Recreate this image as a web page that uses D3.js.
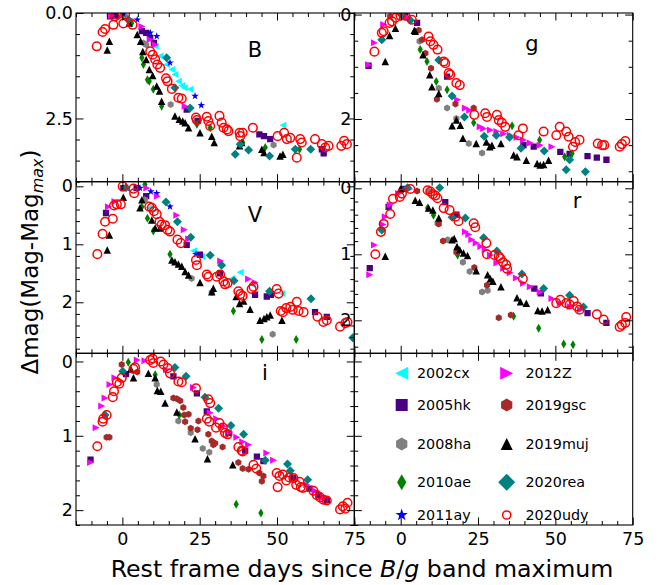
<!DOCTYPE html>
<html><head><meta charset="utf-8">
<script src="https://cdn.jsdelivr.net/npm/d3@7"></script>
<style>body{margin:0;background:#fff} svg text{font-family:"DejaVu Sans",sans-serif}</style>
</head><body><svg id="c" width="659" height="585"></svg>
<script>
// ---------------- DATA ----------------
const bands = ["B","g","V","r","i"];
const sne = ["2002cx","2005hk","2008ha","2010ae","2011ay","2012Z","2019gsc","2019muj","2020rea","2020udy"];
const xTicks = [0,25,50,75];
const yTicksB = [0,2.5], yTicksG = [0,2], yTicksV = [0,1,2], yTicksR = [0,1,2], yTicksI = [0,1,2];

// B band  [day, dmag]
const B_2002cx = [[7.9,0.51],[10.6,0.79],[12.2,1.02],[14.3,1.22],[16.0,1.34],[17.0,1.46],[18.1,1.62],[19.2,1.72],[20.0,1.77],[21.9,1.81],[51.9,2.66]];
const B_2005hk = [[-4.0,0.08],[-2.1,0.06],[6.3,0.43],[7.7,0.47],[9.0,0.59],[10.2,0.71],[20.8,2.29],[24.3,2.56],[44.3,2.88],[45.8,2.92],[47.8,2.99],[64.5,3.23],[65.1,3.33]];
const B_2008ha = [[0.9,0.08],[6.8,0.71],[7.7,0.75],[15.6,2.17],[48.9,3.13]];
const B_2010ae = [[3.0,0.24],[6.3,1.06],[6.8,1.22],[8.1,1.58],[8.7,1.62],[10.0,1.81],[12.7,2.21],[24.1,2.64],[28.4,2.72],[38.9,3.07],[46.2,3.19],[57.3,3.23]];
const B_2011ay = [[0.3,0.02],[4.8,0.16],[9.0,0.47],[11.1,0.55],[15.4,1.18],[23.5,1.97],[25.5,2.19]];
const B_2012Z = [[-3.5,0.06],[3.0,0.16],[6.3,0.32],[9.0,0.63],[10.6,0.75],[20.3,2.21]];
const B_2019muj = [[-4.2,0.67],[-4.9,0.88],[2.2,0.24],[4.8,0.51],[5.9,0.67],[6.6,0.91],[7.7,1.10],[8.7,1.34],[9.8,1.48],[11.1,1.73],[12.0,1.85],[12.7,2.09],[17.0,2.44],[18.4,2.52],[19.5,2.56],[20.3,2.60],[21.4,2.72],[25.1,2.84],[28.9,2.92],[29.7,3.07],[37.9,3.15],[38.6,3.07],[45.1,3.23],[45.8,3.31],[51.0,3.39],[51.9,3.35]];
const B_2020rea = [[1.9,0.16],[14.3,1.06],[17.0,1.77],[21.9,2.25],[36.5,3.35],[38.1,3.11],[40.8,3.25],[47.6,3.39],[55.9,3.23],[60.9,3.23]];
const B_2020udy = [[-8.3,0.79],[-6.4,0.45],[-5.6,0.38],[-2.9,0.28],[-2.4,0.08],[-1.6,0.04],[0.9,0.04],[0.3,0.25],[3.3,0.28],[9.0,0.91],[9.8,0.99],[10.6,1.10],[11.3,1.22],[12.2,1.30],[14.1,1.55],[14.6,1.62],[16.0,1.80],[18.1,2.01],[19.2,2.03],[23.8,2.48],[24.1,2.54],[27.3,2.46],[27.8,2.56],[28.4,2.68],[31.4,2.44],[32.1,2.60],[32.7,2.72],[33.8,2.76],[34.3,2.80],[37.9,2.84],[38.1,2.92],[38.9,2.84],[42.2,2.72],[50.2,2.92],[52.3,2.84],[53.2,2.99],[54.3,2.96],[56.4,3.43],[57.5,2.99],[58.0,3.07],[62.3,2.99],[64.5,3.11],[65.6,3.19],[66.7,3.15],[70.8,3.15],[71.7,3.03],[72.6,3.11]];

// g band
const g_2005hk = [[-10.4,0.98],[1.5,0.02],[5.3,0.16],[15.0,1.19],[39.7,2.50],[43.0,2.53],[51.6,2.63],[54.6,2.67],[60.4,2.71],[63.4,2.74],[66.5,2.78]];
const g_2008ha = [[6.1,0.51],[12.3,1.41],[15.0,1.79],[18.0,1.99],[22.0,2.47],[26.3,2.65]];
const g_2010ae = [[6.3,0.67],[8.5,0.90],[11.5,1.28],[15.0,1.44],[23.6,2.07],[36.0,2.13],[44.9,2.40],[53.0,2.72],[55.4,2.66]];
const g_2012Z = [[-10.4,0.96],[-8.5,0.54],[-5.5,0.19],[2.6,0.06],[18.4,1.63],[20.9,1.79],[22.3,1.83],[25.7,2.15],[26.8,2.18],[29.0,2.21],[31.1,2.24],[33.3,2.28],[35.4,2.31],[37.6,2.35],[39.7,2.40],[41.9,2.46],[45.1,2.50],[48.9,2.53]];
const g_2019gsc = [[-3.4,0.03],[0.5,0.0],[5.8,0.30],[6.9,0.48],[8.0,0.74],[9.8,1.03],[11.7,1.62],[17.7,1.71],[23.6,1.79]];
const g_2019muj = [[-5.0,0.90],[-3.6,0.40],[-1.7,0.26],[4.4,0.30],[4.7,0.32],[7.2,0.77],[9.4,1.15],[10.1,1.38],[12.3,1.51],[16.6,2.13],[18.0,2.02],[19.3,2.12],[20.1,2.37],[24.4,2.47],[27.7,2.44],[28.8,2.53],[29.5,2.50],[32.4,2.47],[36.5,2.69],[37.6,2.72],[40.6,2.79],[44.1,2.85],[45.1,2.88],[46.2,2.87],[47.8,2.79]];
const g_2020rea = [[-6.1,0.48],[0.2,0.0],[3.1,0.11],[12.3,0.87],[16.6,1.56],[20.6,1.96],[27.0,2.33],[30.9,2.31],[35.2,2.35],[38.9,2.56],[46.4,2.61],[53.5,2.97],[54.6,2.78],[59.7,3.01]];
const g_2020udy = [[-8.5,0.71],[-6.1,0.35],[-5.5,0.32],[-3.6,0.16],[-2.8,0.13],[-1.7,0.06],[-0.1,0.02],[1.5,0.02],[3.6,0.10],[9.0,0.42],[9.6,0.51],[10.6,0.58],[11.9,0.67],[13.9,0.90],[14.4,0.93],[15.5,1.12],[16.0,1.15],[18.0,1.31],[19.1,1.35],[23.8,1.92],[27.3,1.89],[27.9,1.96],[31.1,1.92],[31.7,2.02],[32.7,2.07],[33.8,2.15],[38.1,2.31],[39.5,2.18],[46.2,2.24],[50.3,2.31],[51.4,2.15],[53.5,2.24],[54.3,2.34],[55.7,2.53],[56.4,2.44],[57.8,2.40],[63.7,2.47],[65.1,2.50],[65.8,2.50],[70.8,2.53],[71.5,2.48],[72.6,2.42]];

// V band
const V_2002cx = [[8.7,0.37],[23.0,1.11],[25.7,1.21],[35.4,1.59],[38.1,1.48],[42.2,1.70],[51.6,1.85]];
const V_2005hk = [[-5.3,0.46],[0.3,0.03],[4.6,0.03],[7.7,0.17],[20.8,1.01],[25.1,1.18],[31.6,1.50],[42.9,1.87],[46.7,1.90],[48.0,1.87],[62.3,2.17],[66.1,2.25]];
const V_2008ha = [[7.3,0.23],[22.4,1.59],[28.9,1.83],[48.6,2.55]];
const V_2010ae = [[7.3,-0.03],[6.3,0.35],[8.1,0.55],[10.0,0.77],[15.4,1.17],[35.9,2.15],[45.1,2.64],[56.2,2.64]];
const V_2011ay = [[1.4,0.03],[5.7,0.03],[9.2,0.09],[11.1,0.12],[15.4,0.35],[23.8,1.17]];
const V_2012Z = [[-4.5,0.35],[-2.4,0.26],[7.9,0.03],[11.3,0.17],[17.6,0.50],[20.0,0.75],[21.4,0.91],[31.8,1.29],[40.8,1.60],[42.9,1.66]];
const V_2019muj = [[-4.2,0.84],[-4.9,1.10],[0.3,0.19],[5.7,0.37],[6.3,0.23],[9.5,0.58],[10.6,0.72],[12.2,0.72],[16.0,1.27],[17.0,1.30],[18.1,1.34],[19.2,1.38],[20.3,1.47],[21.4,1.53],[25.1,1.66],[28.9,1.82],[29.4,1.76],[36.8,1.90],[37.9,2.02],[39.2,1.98],[41.3,2.12],[44.5,2.31],[45.8,2.28],[46.7,2.25],[47.8,2.22],[51.6,2.31]];
const V_2020rea = [[1.2,0.02],[14.1,0.27],[17.8,0.61],[22.1,0.88],[28.4,1.19],[32.1,1.36],[36.1,1.63],[47.6,1.81],[61.0,1.94],[74.5,2.61]];
const V_2020udy = [[-8.1,1.17],[-6.4,0.82],[-5.6,0.61],[-3.1,0.56],[-2.7,0.33],[-1.8,0.31],[-0.5,0.31],[0.1,0.0],[3.6,0.04],[3.8,0.12],[8.7,0.35],[9.5,0.37],[10.2,0.43],[11.1,0.48],[12.0,0.61],[12.7,0.66],[13.8,0.67],[14.6,0.75],[15.4,0.78],[17.8,0.92],[18.9,0.98],[23.8,1.27],[24.1,1.36],[27.3,1.52],[27.8,1.56],[30.5,1.56],[31.6,1.52],[32.7,1.64],[33.2,1.69],[34.0,1.67],[37.5,1.81],[38.1,1.86],[38.9,1.89],[41.8,1.77],[42.4,1.73],[49.9,1.77],[50.5,1.85],[51.2,2.15],[51.9,2.17],[53.0,2.10],[54.3,2.08],[55.1,2.13],[56.4,1.99],[57.0,2.15],[58.6,2.17],[63.1,2.25],[65.0,2.34],[66.1,2.31],[70.4,2.42],[72.1,2.36],[72.8,2.34]];

// r band
const r_2005hk = [[-10.0,1.21],[-3.9,0.28],[1.0,0.01],[14.4,0.21],[18.0,0.40],[43.2,1.52],[45.3,1.59],[60.4,1.89],[66.5,2.04]];
const r_2008ha = [[9.0,0.04],[11.9,0.53],[15.2,0.78],[20.1,1.12],[22.3,1.26],[26.3,1.57],[28.1,1.55]];
const r_2010ae = [[8.7,0.30],[10.6,0.41],[18.4,1.01],[36.5,1.94],[44.6,2.12],[52.7,2.36],[55.7,2.37]];
const r_2012Z = [[-10.0,1.31],[-8.5,0.86],[-5.7,0.55],[-5.0,0.43],[-3.4,0.25],[-0.7,0.08],[2.9,0.01],[20.9,0.66],[22.0,0.70],[23.0,0.78],[24.4,0.83],[25.9,0.88],[27.3,0.93],[29.0,1.01],[31.1,1.13],[33.3,1.21],[35.4,1.28],[37.4,1.36],[39.7,1.44],[41.9,1.49],[45.1,1.57],[48.9,1.67],[51.6,1.74],[54.8,1.79],[58.1,1.84]];
const r_2019gsc = [[5.3,0.04],[12.3,0.54],[13.7,0.80],[18.0,0.97],[23.8,1.20],[27.9,1.47],[31.7,1.96],[35.6,1.92]];
const r_2019muj = [[-5.0,1.03],[-0.1,0.01],[4.7,0.18],[6.1,0.21],[9.0,0.30],[10.4,0.33],[12.3,0.45],[16.6,0.78],[17.3,0.76],[18.2,0.88],[19.1,0.93],[20.3,0.98],[21.6,1.02],[24.4,1.25],[28.1,1.31],[29.0,1.37],[29.8,1.41],[32.4,1.49],[37.6,1.66],[38.7,1.72],[40.6,1.74],[44.3,1.85],[45.7,1.86],[47.5,1.84]];
const r_2020rea = [[-6.1,0.63],[2.2,-0.01],[12.6,-0.01],[16.6,0.44],[20.9,0.45],[26.8,0.75],[31.1,0.95],[39.2,1.30],[46.2,1.52],[54.6,1.62],[59.1,1.80]];
const r_2020udy = [[-8.2,1.00],[-6.4,0.66],[-5.5,0.54],[-3.4,0.39],[-2.5,0.16],[-0.3,0.13],[0.4,0.08],[3.1,0.01],[8.7,0.03],[9.6,0.05],[10.4,0.09],[11.2,0.11],[11.9,0.15],[13.9,0.30],[15.8,0.33],[17.7,0.43],[18.7,0.50],[23.6,0.53],[24.1,0.59],[27.7,0.83],[27.9,1.00],[30.3,1.01],[31.7,1.03],[32.2,1.06],[33.1,1.12],[34.1,1.16],[34.4,1.22],[39.5,1.37],[50.3,1.74],[51.6,1.69],[53.5,1.74],[54.6,1.76],[55.9,1.71],[57.0,1.79],[57.8,1.84],[63.4,1.91],[65.6,1.99],[70.8,2.10],[71.5,2.07],[72.6,2.04],[72.9,1.95]];

// i band
const i_2005hk = [[-10.3,1.32],[1.2,0.17],[16.5,0.20],[24.1,0.43],[27.3,0.67],[34.3,0.96],[39.7,1.20],[43.5,1.28],[45.6,1.34],[55.3,1.57],[60.5,1.71],[63.4,1.80],[66.1,1.87]];
const i_2008ha = [[11.1,0.31],[18.1,0.80],[22.1,0.96],[26.0,1.17],[28.1,1.22]];
const i_2010ae = [[1.9,0.01],[10.6,0.18],[18.4,0.72],[36.8,1.92],[44.8,2.04]];
const i_2012Z = [[-10.3,1.36],[-8.5,0.89],[-6.7,0.60],[-5.6,0.49],[-4.0,0.31],[-2.4,0.22],[4.8,-0.02],[7.3,-0.01],[14.3,0.11],[23.0,0.35],[28.4,0.69],[30.5,0.77],[32.7,0.87],[34.8,0.95],[37.0,1.02],[38.9,1.08],[40.8,1.12],[46.7,1.23],[48.9,1.33],[59.6,1.66],[62.3,1.74],[65.0,1.83]];
const i_2019gsc = [[-5.1,1.02],[-4.2,1.02],[-0.2,0.04],[4.8,0.14],[16.5,0.49],[17.6,0.50],[18.7,0.53],[19.7,0.62],[20.0,0.72],[21.4,0.71],[20.3,0.81],[22.1,0.90],[24.6,0.80],[24.3,0.92],[27.8,0.98],[28.9,1.07],[29.4,1.12],[30.0,1.10],[32.4,1.15],[37.5,1.36],[38.9,1.44],[40.8,1.45],[44.3,1.50],[45.1,1.61],[45.6,1.54]];
const i_2019muj = [[2.7,0.10],[3.6,0.22],[8.4,0.16],[10.6,0.22],[11.3,0.39],[12.4,0.40],[13.8,0.56],[17.6,0.68],[23.5,1.04],[27.5,1.31],[35.7,1.39]];
const i_2020rea = [[-5.6,0.72],[0.1,0.13],[17.0,0.08],[20.6,0.20],[26.7,0.48],[31.1,0.63],[35.1,0.86],[39.2,0.98],[46.2,1.33],[53.4,1.38],[54.3,1.47],[59.9,1.59]];
const i_2020udy = [[-8.1,1.14],[-6.4,0.81],[-6.2,0.77],[-5.1,0.72],[-3.1,0.48],[-2.7,0.40],[-1.8,0.28],[-1.0,0.30],[-0.2,0.22],[3.6,0.10],[4.1,0.08],[9.0,-0.02],[9.8,-0.04],[10.0,0.02],[12.4,0.0],[13.3,0.04],[14.6,0.09],[15.4,0.16],[18.1,0.27],[19.2,0.28],[23.8,0.36],[27.8,0.51],[28.4,0.56],[27.3,0.77],[28.1,0.81],[30.3,0.89],[31.4,0.83],[32.5,0.89],[33.2,0.96],[34.0,0.98],[37.5,1.15],[38.6,1.20],[38.9,1.21],[42.4,1.39],[43.3,1.44],[49.9,1.50],[50.2,1.69],[50.8,1.54],[51.9,1.52],[53.0,1.60],[54.0,1.56],[55.3,1.57],[56.2,1.66],[57.3,1.62],[57.7,1.69],[58.4,1.70],[61.8,1.74],[62.9,1.80],[64.0,1.83],[65.0,1.86],[66.1,1.87],[70.4,1.99],[71.3,1.95],[72.1,1.98],[72.8,1.90]];

// table built from the arrays
const table = {
  B: {"2002cx":B_2002cx,"2005hk":B_2005hk,"2008ha":B_2008ha,"2010ae":B_2010ae,"2011ay":B_2011ay,"2012Z":B_2012Z,"2019muj":B_2019muj,"2020rea":B_2020rea,"2020udy":B_2020udy},
  g: {"2005hk":g_2005hk,"2008ha":g_2008ha,"2010ae":g_2010ae,"2012Z":g_2012Z,"2019gsc":g_2019gsc,"2019muj":g_2019muj,"2020rea":g_2020rea,"2020udy":g_2020udy},
  V: {"2002cx":V_2002cx,"2005hk":V_2005hk,"2008ha":V_2008ha,"2010ae":V_2010ae,"2011ay":V_2011ay,"2012Z":V_2012Z,"2019muj":V_2019muj,"2020rea":V_2020rea,"2020udy":V_2020udy},
  r: {"2005hk":r_2005hk,"2008ha":r_2008ha,"2010ae":r_2010ae,"2012Z":r_2012Z,"2019gsc":r_2019gsc,"2019muj":r_2019muj,"2020rea":r_2020rea,"2020udy":r_2020udy},
  i: {"2005hk":i_2005hk,"2008ha":i_2008ha,"2010ae":i_2010ae,"2012Z":i_2012Z,"2019gsc":i_2019gsc,"2019muj":i_2019muj,"2020rea":i_2020rea,"2020udy":i_2020udy}
};

// ---------------- STYLE ----------------
const style = {
  "2002cx":{m:"<",c:"#00ffff",s:7,ls:13},
  "2005hk":{m:"s",c:"#4b0082",s:6.3,ls:12},
  "2008ha":{m:"h",c:"#808080",s:7,ls:13},
  "2010ae":{m:"d",c:"#008000",s:9,ls:16},
  "2011ay":{m:"*",c:"#0000ff",s:8,ls:13},
  "2012Z":{m:">",c:"#ff00ff",s:7,ls:13},
  "2019gsc":{m:"h",c:"#a52a2a",s:7,ls:13},
  "2019muj":{m:"^",c:"#000000",s:7.5,ls:12},
  "2020rea":{m:"D",c:"#008080",s:9,ls:17},
  "2020udy":{m:"o",c:"#ff0000",s:8.6,ls:8.2}
};

function markerPath(t, s){
  const h = s/2;
  switch(t){
    case "^": return `M0,${-h}L${h},${h}L${-h},${h}Z`;
    case "<": return `M${-h},0L${h},${-h}L${h},${h}Z`;
    case ">": return `M${h},0L${-h},${-h}L${-h},${h}Z`;
    case "s": return `M${-h},${-h}h${s}v${s}h${-s}Z`;
    case "h": { const p=d3.range(6).map(i=>{const a=Math.PI/3*i-Math.PI/2;return [h*Math.cos(a),h*Math.sin(a)];}); return "M"+p.map(q=>q.join(",")).join("L")+"Z"; }
    case "d": return `M0,${-h}L${h*0.58},0L0,${h}L${-h*0.58},0Z`;
    case "D": return `M0,${-h}L${h},0L0,${h}L${-h},0Z`;
    case "*": { const p=d3.range(10).map(i=>{const a=Math.PI/5*i-Math.PI/2;const rr=i%2?h*0.4:h;return [rr*Math.cos(a),rr*Math.sin(a)];}); return "M"+p.map(q=>q.join(",")).join("L")+"Z"; }
    case "o": return `M${h},0A${h},${h} 0 1,1 ${-h},0A${h},${h} 0 1,1 ${h},0Z`;
  }
}
function styleMarker(sel, st){
  if(st.m==="o") sel.attr("fill","none").attr("stroke",st.c).attr("stroke-width",1.5);
  else sel.attr("fill",st.c).attr("stroke","none");
}

// ---------------- LAYOUT ----------------
const svg = d3.select("#c");
const defs = svg.append("defs");
const cols = [[76,354.3],[354.3,632.7]];
const rows = [[13,181.7],[181.7,353.3],[353.3,525]];
const TICK_FS = 17.5;

const panels = [
  {band:"B", col:0,row:0, dom:[0,4.0],   major:yTicksB, minor:0.5, fmt:d3.format(".1f"), lab:[255,57]},
  {band:"g", col:1,row:0, dom:[-0.03,3.2],major:yTicksG, minor:0.5, fmt:d3.format("d"), lab:[532,51]},
  {band:"V", col:0,row:1, dom:[-0.08,2.88],major:yTicksV, minor:0.2, fmt:d3.format("d"), lab:[255,222]},
  {band:"r", col:1,row:1, dom:[-0.1,2.5], major:yTicksR, minor:0.2, fmt:d3.format("d"), lab:[577,208]},
  {band:"i", col:0,row:2, dom:[-0.11,2.2],major:yTicksI, minor:0.2, fmt:d3.format("d"), lab:[265,380]},
  {band:null,col:1,row:2, dom:[-0.11,2.2],major:yTicksI, minor:0.2, fmt:()=>"", legend:true}
];

function styleAxis(g){
  g.select(".domain").remove();
  g.selectAll("line").attr("stroke","#000").attr("stroke-width",1);
  g.selectAll("text").attr("font-size",TICK_FS).attr("font-family","DejaVu Sans").attr("fill","#000");
  g.attr("font-family",null).attr("font-size",null);
}

panels.forEach((p,k)=>{
  const [x0,x1]=cols[p.col], [y0,y1]=rows[p.row];
  const x = d3.scaleLinear().domain([-15,75]).range([x0,x1]);
  const y = d3.scaleLinear().domain(p.dom).range([y0,y1]);
  const xMinor = d3.range(-15,75.01,5).filter(v=>!xTicks.includes(v));
  const yMinor = d3.range(Math.ceil(p.dom[0]/p.minor)*p.minor, p.dom[1]+1e-6, p.minor).map(v=>+v.toFixed(3)).filter(v=>!p.major.some(m=>Math.abs(m-v)<1e-6));

  defs.append("clipPath").attr("id","clip"+k).append("rect")
    .attr("x",x0).attr("y",y0).attr("width",x1-x0).attr("height",y1-y0);

  if(p.band){
    const gm = svg.append("g").attr("clip-path",`url(#clip${k})`);
    sne.forEach(name=>{
      const pts = table[p.band][name];
      if(!pts) return;
      const st = style[name];
      gm.append("g").selectAll("path").data(pts).join("path")
        .attr("d",markerPath(st.m,st.s))
        .attr("transform",d=>`translate(${x(d[0])},${y(d[1])})`)
        .call(sel=>styleMarker(sel,st));
    });
    svg.append("text").attr("x",p.lab[0]).attr("y",p.lab[1]).attr("text-anchor","middle")
      .attr("font-size",21).text(p.band);
  }

  // axes: inward ticks
  svg.append("g").attr("transform",`translate(${x0},0)`)
    .call(d3.axisLeft(y).tickValues(p.major).tickSizeInner(-7.5).tickSizeOuter(0).tickPadding(3).tickFormat(p.fmt)).call(styleAxis);
  svg.append("g").attr("transform",`translate(${x0},0)`)
    .call(d3.axisLeft(y).tickValues(yMinor).tickSizeInner(-4).tickSizeOuter(0).tickFormat("")).call(styleAxis);
  if(!p.legend){
    svg.append("g").attr("transform",`translate(${x1},0)`)
      .call(d3.axisRight(y).tickValues(p.major).tickSizeInner(-7.5).tickSizeOuter(0).tickFormat("")).call(styleAxis);
    svg.append("g").attr("transform",`translate(${x1},0)`)
      .call(d3.axisRight(y).tickValues(yMinor).tickSizeInner(-4).tickSizeOuter(0).tickFormat("")).call(styleAxis);
  }
  svg.append("g").attr("transform",`translate(0,${y0})`)
    .call(d3.axisTop(x).tickValues(xTicks).tickSizeInner(-7.5).tickSizeOuter(0).tickFormat("")).call(styleAxis);
  svg.append("g").attr("transform",`translate(0,${y0})`)
    .call(d3.axisTop(x).tickValues(xMinor).tickSizeInner(-4).tickSizeOuter(0).tickFormat("")).call(styleAxis);
  const bottomLabels = p.row===2;
  svg.append("g").attr("transform",`translate(0,${y1})`)
    .call(d3.axisBottom(x).tickValues(xTicks).tickSizeInner(-7.5).tickSizeOuter(0).tickPadding(7.5).tickFormat(bottomLabels?d3.format("d"):"")).call(styleAxis);
  svg.append("g").attr("transform",`translate(0,${y1})`)
    .call(d3.axisBottom(x).tickValues(xMinor).tickSizeInner(-4).tickSizeOuter(0).tickFormat("")).call(styleAxis);

  svg.append("rect").attr("x",x0).attr("y",y0).attr("width",x1-x0).attr("height",y1-y0)
    .attr("fill","none").attr("stroke","#000").attr("stroke-width",1.1);

  if(p.legend){
    const rowY = [373.3,405,444,482.3,515];
    const colX = [[401.7,417],[506.7,525.5]];
    sne.forEach((name,j)=>{
      const c = Math.floor(j/5), r = j%5;
      const st = style[name];
      svg.append("path").attr("d",markerPath(st.m,st.ls))
        .attr("transform",`translate(${colX[c][0]},${rowY[r]})`).call(sel=>styleMarker(sel,st));
      svg.append("text").attr("x",colX[c][1]).attr("y",rowY[r]+5).attr("font-size",14.3).text(name);
    });
  }
});

// axis titles
const xt = svg.append("text").attr("x",362).attr("y",577).attr("text-anchor","middle").attr("font-size",23.7);
xt.append("tspan").text("Rest frame days since ");
xt.append("tspan").attr("font-style","italic").text("B");
xt.append("tspan").text("/");
xt.append("tspan").attr("font-style","italic").text("g");
xt.append("tspan").text(" band maximum");

const yt = svg.append("text").attr("transform","translate(38,262) rotate(-90)").attr("text-anchor","middle").attr("font-size",23);
yt.append("tspan").text("Δmag(Mag-Mag");
yt.append("tspan").attr("font-size",16).attr("font-style","italic").attr("dy",5).text("max");
yt.append("tspan").attr("dy",-5).text(")");
</script></body></html>
